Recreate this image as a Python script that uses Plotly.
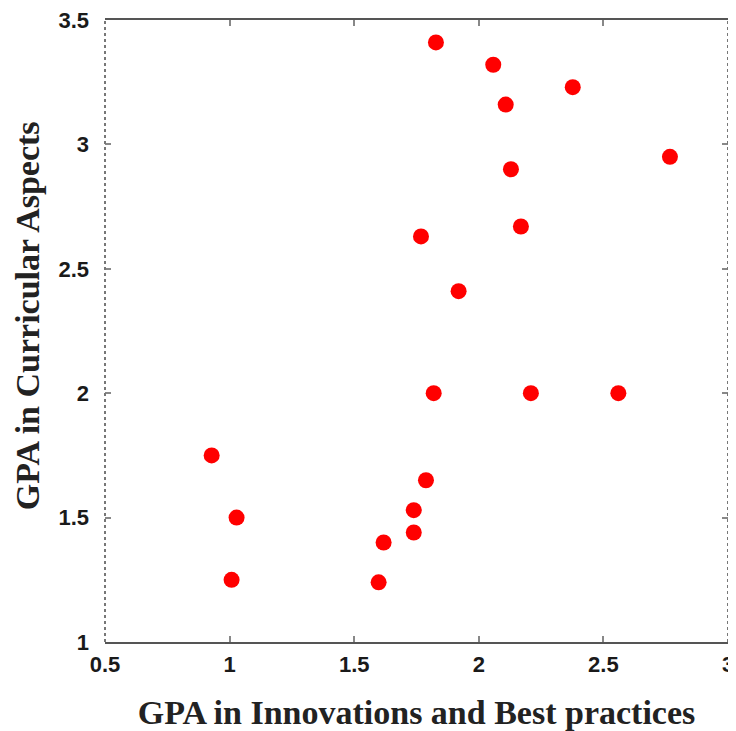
import plotly.graph_objects as go

gpa_innovations = [1.828, 2.058, 2.377, 2.108, 2.129, 2.767, 1.768, 2.169, 1.919,
                   1.819, 2.209, 2.560, 0.928, 1.028, 1.008, 1.788, 1.739, 1.739,
                   1.618, 1.598]
gpa_curricular = [3.41, 3.32, 3.23, 3.16, 2.90, 2.95, 2.63, 2.67, 2.41,
                  2.00, 2.00, 2.00, 1.75, 1.50, 1.25, 1.65, 1.53, 1.44,
                  1.40, 1.24]
x_ticks = [0.5, 1, 1.5, 2, 2.5, 3]
y_ticks = [1, 1.5, 2, 2.5, 3, 3.5]

fig = go.Figure()
fig.add_trace(go.Scatter(
    x=gpa_innovations, y=gpa_curricular, mode="markers",
    marker=dict(color="#ff0000", size=16, line=dict(width=0)),
    showlegend=False, cliponaxis=False,
))

tickfont = dict(family="Liberation Sans", size=22, color="#1a1a1a")
titlefont = dict(family="Liberation Serif", size=34, color="#222222")

# page has an 8px body margin; figure is sized so that the plot lands where the reference has it
fig.update_layout(
    width=728, height=723,
    margin=dict(l=97, r=8, t=12, b=89),
    paper_bgcolor="white", plot_bgcolor="white",
    xaxis=dict(
        range=[0.5, 3], tickvals=x_ticks, ticktext=["<b>%g</b>" % v for v in x_ticks],
        showgrid=False, zeroline=False, automargin=False,
        showline=True, linecolor="#555555", linewidth=2, mirror="ticks",
        ticks="inside", ticklen=6, tickwidth=2, tickcolor="#888888",
        tickfont=tickfont, ticklabelstandoff=2, ticklabeloverflow="allow",
        title=dict(text="<b>GPA in Innovations and Best practices</b>", font=titlefont, standoff=24),
    ),
    yaxis=dict(
        range=[1, 3.5], tickvals=y_ticks, ticktext=["<b>%g</b>" % v for v in y_ticks],
        showgrid=False, zeroline=False, automargin=False,
        showline=False, mirror="ticks",
        ticks="inside", ticklen=6, tickwidth=1.5, tickcolor="#888888",
        tickfont=tickfont, ticklabelstandoff=15, ticklabeloverflow="allow",
    ),
    annotations=[dict(
        text="<b>GPA in Curricular Aspects</b>", font=titlefont, textangle=-90,
        xref="paper", yref="paper", x=-0.125, y=0.524,
        xanchor="center", yanchor="middle", showarrow=False,
    )],
)

for xp in (0, 1):
    fig.add_shape(type="line", xref="paper", yref="paper", x0=xp, x1=xp, y0=0, y1=1,
                  layer="above", line=dict(color="#777777", width=2, dash="dot"))

fig.write_html("out.html")
